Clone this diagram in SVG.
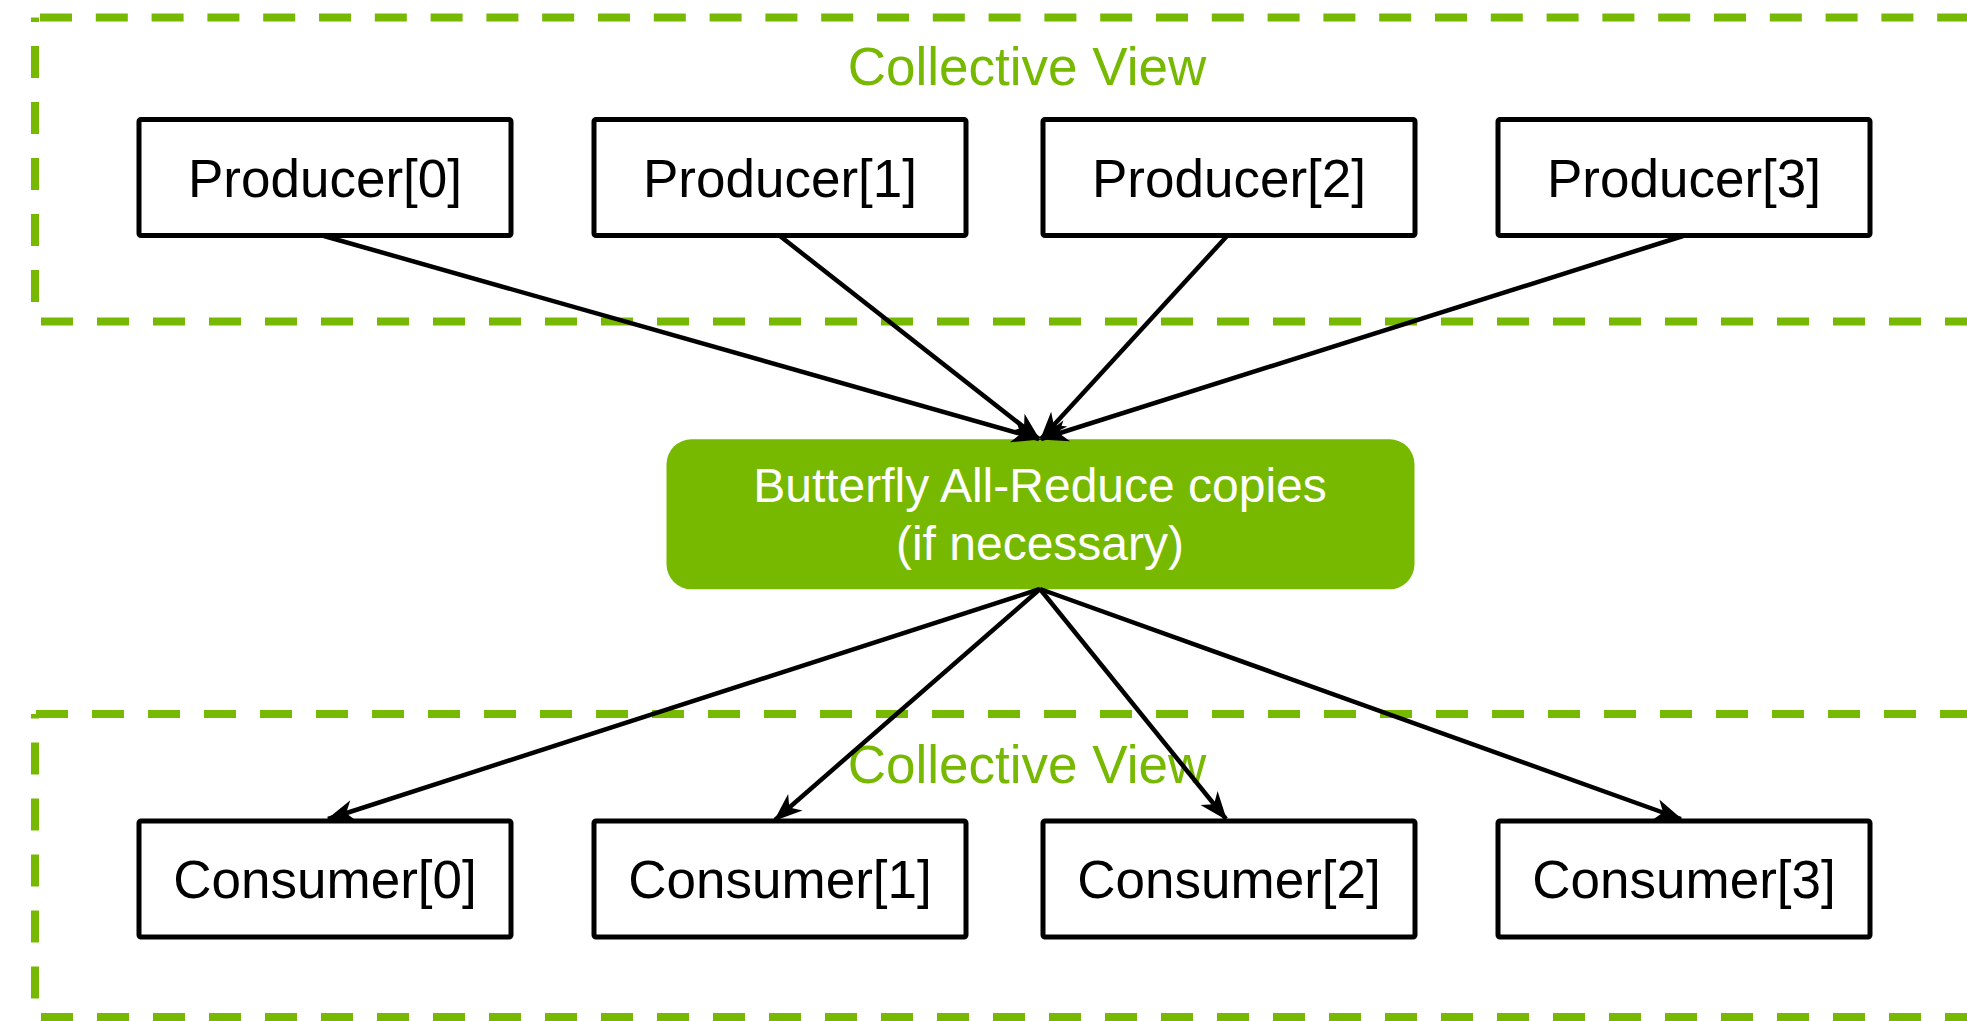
<svg xmlns="http://www.w3.org/2000/svg" width="1967" height="1021" viewBox="0 0 1967 1021">
  <style>
    .dash { fill: none; stroke: #76B900; stroke-width: 8; stroke-dasharray: 32 24; }
    .title { font-family: "Liberation Sans", Arial, sans-serif; font-size: 53px; fill: #76B900; text-anchor: middle; }
    .box { fill: #FFFFFF; stroke: #000000; stroke-width: 5; }
    .label { font-family: "Liberation Sans", Arial, sans-serif; font-size: 53px; fill: #000000; text-anchor: middle; }
    .core { fill: #76B900; }
    .coretext { font-family: "Liberation Sans", Arial, sans-serif; font-size: 48px; fill: #FFFFFF; text-anchor: middle; }
    .edge { fill: none; stroke: #000000; stroke-width: 4.5; marker-end: url(#arrow); }
  </style>
  <defs>
    <marker id="arrow" markerUnits="userSpaceOnUse" markerWidth="34" markerHeight="28" viewBox="-30 -14 34 28" refX="0" refY="0" orient="auto">
      <path d="M1.5,0 L-27,-11 L-19,0 L-27,11 Z" fill="#000000"/>
    </marker>
  </defs>
  <rect width="1967" height="1021" fill="#FFFFFF"/>

  <g id="collective-view-top">
    <line class="dash" x1="40" y1="17.5" x2="1990" y2="17.5" style="stroke-dasharray: 32 23.8"/>
    <line class="dash" x1="35" y1="17.5" x2="35" y2="321.5" style="stroke-dashoffset: 27.5"/>
    <line class="dash" x1="41" y1="321.5" x2="1990" y2="321.5"/>
    <text class="title" x="1027" y="85">Collective View</text>
  </g>

  <g id="collective-view-bottom">
    <line class="dash" x1="36" y1="714" x2="1990" y2="714"/>
    <line class="dash" x1="35" y1="714" x2="35" y2="1017" style="stroke-dashoffset: 27.5"/>
    <line class="dash" x1="41" y1="1017" x2="1990" y2="1017"/>
    <text class="title" x="1027" y="783">Collective View</text>
  </g>

  <g id="producer-0">
    <rect class="box" x="139" y="119.5" width="372" height="116" rx="2"/>
    <text class="label" x="325" y="197">Producer[0]</text>
  </g>
  <g id="producer-1">
    <rect class="box" x="594" y="119.5" width="372" height="116" rx="2"/>
    <text class="label" x="780" y="197">Producer[1]</text>
  </g>
  <g id="producer-2">
    <rect class="box" x="1043" y="119.5" width="372" height="116" rx="2"/>
    <text class="label" x="1229" y="197">Producer[2]</text>
  </g>
  <g id="producer-3">
    <rect class="box" x="1498" y="119.5" width="372" height="116" rx="2"/>
    <text class="label" x="1684" y="197">Producer[3]</text>
  </g>

  <g id="butterfly">
    <rect class="core" x="666.5" y="439.3" width="748" height="150" rx="25"/>
    <text class="coretext" x="1040" y="502">Butterfly All-Reduce copies</text>
    <text class="coretext" x="1040" y="560">(if necessary)</text>
  </g>

  <g id="consumer-0">
    <rect class="box" x="139" y="821" width="372" height="116" rx="2"/>
    <text class="label" x="325" y="898">Consumer[0]</text>
  </g>
  <g id="consumer-1">
    <rect class="box" x="594" y="821" width="372" height="116" rx="2"/>
    <text class="label" x="780" y="898">Consumer[1]</text>
  </g>
  <g id="consumer-2">
    <rect class="box" x="1043" y="821" width="372" height="116" rx="2"/>
    <text class="label" x="1229" y="898">Consumer[2]</text>
  </g>
  <g id="consumer-3">
    <rect class="box" x="1498" y="821" width="372" height="116" rx="2"/>
    <text class="label" x="1684" y="898">Consumer[3]</text>
  </g>

  <g id="connectors">
    <line class="edge" x1="324" y1="236" x2="1039" y2="439"/>
    <line class="edge" x1="780" y1="236" x2="1039" y2="439"/>
    <line class="edge" x1="1227" y1="236" x2="1041" y2="439"/>
    <line class="edge" x1="1683" y1="236" x2="1041" y2="439"/>
    <line class="edge" x1="1040" y1="589" x2="328" y2="819"/>
    <line class="edge" x1="1040" y1="589" x2="775" y2="820"/>
    <line class="edge" x1="1040" y1="589" x2="1226" y2="819"/>
    <line class="edge" x1="1040" y1="589" x2="1681" y2="819"/>
  </g>
</svg>
